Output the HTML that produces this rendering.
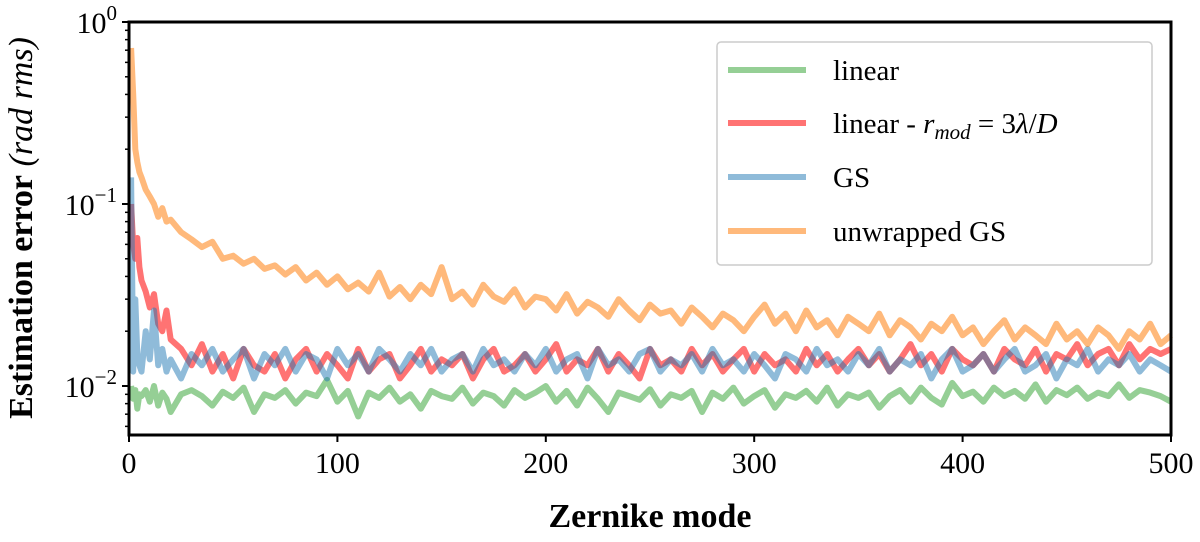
<!DOCTYPE html>
<html><head><meta charset="utf-8"><style>
body{margin:0;background:#fff}
svg text{font-family:"Liberation Serif",serif;fill:#000}
</style></head><body>
<svg id="chart" width="1200" height="537" xmlns="http://www.w3.org/2000/svg">
<g id="series"></g>
<rect x="129" y="22" width="1042" height="413" fill="none" stroke="#000" stroke-width="3"/>
<g id="axes"></g>
<text x="32" y="228" font-size="34" text-anchor="middle" transform="rotate(-90 32 228)"><tspan font-weight="bold">Estimation error</tspan> <tspan font-style="italic">(rad rms)</tspan></text>
<text x="650" y="527" font-size="34" font-weight="bold" text-anchor="middle">Zernike mode</text>
<g>
<rect x="717" y="42" width="435" height="223" rx="4" fill="#fff" fill-opacity="0.85" stroke="#ccc" stroke-width="1.5"/>
<line x1="728" y1="70" x2="806" y2="70" stroke="#2ca02c" stroke-opacity="0.5" stroke-width="6"/>
<text x="833" y="80" font-size="29">linear</text>
<line x1="728" y1="123" x2="806" y2="123" stroke="#ff0000" stroke-opacity="0.55" stroke-width="6"/>
<text x="833" y="133" font-size="29">linear - <tspan font-style="italic">r</tspan><tspan font-style="italic" font-size="21" dy="6">mod</tspan><tspan dy="-6"> = 3</tspan><tspan font-style="italic">λ</tspan>/<tspan font-style="italic">D</tspan></text>
<line x1="728" y1="177" x2="806" y2="177" stroke="#1f77b4" stroke-opacity="0.5" stroke-width="6"/>
<text x="833" y="187" font-size="29">GS</text>
<line x1="728" y1="231" x2="806" y2="231" stroke="#ff7f0e" stroke-opacity="0.55" stroke-width="6"/>
<text x="833" y="241" font-size="29">unwrapped GS</text>
</g>
</svg>
<script>
const modes=[1,2,3,4,5,6,8,10,12,14,16,18,20,25,30,35,40,45,50,55,60,65,70,75,80,85,90,95,100,105,110,115,120,125,130,135,140,145,150,155,160,165,170,175,180,185,190,195,200,205,210,215,220,225,230,235,240,245,250,255,260,265,270,275,280,285,290,295,300,305,310,315,320,325,330,335,340,345,350,355,360,365,370,375,380,385,390,395,400,405,410,415,420,425,430,435,440,445,450,455,460,465,470,475,480,485,490,495,500];
const orangeVals=[0.72,0.4,0.2,0.17,0.15,0.14,0.12,0.11,0.1,0.085,0.095,0.08,0.082,0.07,0.064,0.058,0.062,0.05,0.052,0.047,0.05,0.044,0.046,0.041,0.045,0.038,0.042,0.036,0.04,0.034,0.037,0.033,0.042,0.031,0.035,0.03,0.036,0.032,0.045,0.03,0.033,0.028,0.036,0.031,0.029,0.034,0.027,0.031,0.03,0.026,0.032,0.025,0.029,0.027,0.024,0.03,0.026,0.023,0.028,0.025,0.026,0.022,0.027,0.024,0.021,0.025,0.023,0.02,0.024,0.028,0.022,0.025,0.02,0.026,0.021,0.023,0.019,0.024,0.022,0.02,0.025,0.019,0.023,0.021,0.018,0.022,0.02,0.024,0.019,0.021,0.017,0.02,0.023,0.018,0.021,0.019,0.017,0.022,0.018,0.02,0.017,0.021,0.019,0.016,0.02,0.018,0.022,0.017,0.019];
const redVals=[0.1,0.06,0.05,0.065,0.045,0.038,0.033,0.027,0.032,0.022,0.02,0.026,0.018,0.016,0.013,0.017,0.012,0.015,0.011,0.016,0.013,0.012,0.015,0.011,0.014,0.016,0.012,0.015,0.013,0.011,0.016,0.012,0.014,0.015,0.011,0.013,0.016,0.012,0.014,0.013,0.015,0.011,0.014,0.016,0.012,0.013,0.015,0.012,0.014,0.017,0.012,0.014,0.013,0.016,0.012,0.015,0.013,0.011,0.016,0.013,0.014,0.012,0.016,0.013,0.015,0.012,0.014,0.016,0.012,0.015,0.013,0.014,0.012,0.016,0.013,0.015,0.012,0.014,0.016,0.013,0.015,0.012,0.014,0.017,0.013,0.015,0.012,0.016,0.014,0.013,0.015,0.012,0.016,0.014,0.013,0.016,0.012,0.015,0.014,0.017,0.013,0.015,0.016,0.013,0.017,0.014,0.016,0.015,0.016];
const blueVals=[0.14,0.012,0.03,0.015,0.013,0.012,0.02,0.014,0.026,0.013,0.016,0.012,0.014,0.011,0.015,0.013,0.016,0.012,0.014,0.016,0.011,0.015,0.013,0.016,0.012,0.015,0.014,0.011,0.016,0.013,0.015,0.012,0.016,0.014,0.012,0.015,0.013,0.016,0.012,0.014,0.015,0.012,0.016,0.013,0.014,0.012,0.015,0.013,0.016,0.012,0.014,0.015,0.011,0.016,0.013,0.014,0.012,0.015,0.016,0.012,0.014,0.013,0.015,0.012,0.016,0.013,0.014,0.012,0.015,0.013,0.011,0.015,0.014,0.012,0.016,0.013,0.014,0.012,0.015,0.013,0.016,0.012,0.014,0.013,0.015,0.011,0.014,0.016,0.012,0.013,0.015,0.012,0.014,0.016,0.012,0.013,0.015,0.011,0.014,0.013,0.016,0.012,0.014,0.013,0.015,0.012,0.014,0.013,0.012];
const greenVals=[0.01,0.0085,0.0095,0.0075,0.009,0.0088,0.0095,0.0082,0.01,0.0078,0.0092,0.0085,0.0072,0.009,0.0095,0.0088,0.0078,0.0093,0.0086,0.0098,0.0072,0.009,0.0086,0.0095,0.008,0.0092,0.0088,0.0108,0.0082,0.0094,0.0068,0.0092,0.0086,0.0098,0.0082,0.009,0.0075,0.0094,0.0088,0.0085,0.0098,0.008,0.0092,0.0088,0.0078,0.0095,0.0086,0.0092,0.01,0.0082,0.0094,0.0078,0.0098,0.0085,0.0072,0.0092,0.0088,0.0084,0.0096,0.0078,0.009,0.0086,0.0094,0.0072,0.0092,0.0085,0.0098,0.008,0.0088,0.0095,0.0076,0.009,0.0086,0.0094,0.0082,0.0098,0.0078,0.009,0.0086,0.0092,0.0076,0.0088,0.0095,0.0082,0.0098,0.0086,0.0079,0.0104,0.0088,0.0093,0.0082,0.0098,0.0088,0.0094,0.0085,0.0102,0.0082,0.0095,0.0089,0.0098,0.0085,0.0092,0.0088,0.0102,0.0086,0.0095,0.0092,0.0088,0.0082];
const xTicks=[0,100,200,300,400,500];
const yDecades=[0,-1,-2];

const X0=129,X1=1171,Y0=22,YB=435,DEC=182;
const xScale=v=>X0+(v/500)*(X1-X0);
const yScale=v=>Y0-Math.log10(v)*DEC;
const NS="http://www.w3.org/2000/svg";
const sg=document.getElementById('series');
const series=[[greenVals,'#2ca02c',0.5,'series-linear'],[redVals,'#ff0000',0.55,'series-linear-rmod'],[blueVals,'#1f77b4',0.5,'series-gs'],[orangeVals,'#ff7f0e',0.55,'series-unwrapped-gs']];
series.forEach(s=>{
  const p=document.createElementNS(NS,'polyline');
  p.setAttribute('points',modes.map((m,i)=>xScale(m).toFixed(1)+','+yScale(s[0][i]).toFixed(1)).join(' '));
  p.setAttribute('fill','none');p.setAttribute('stroke',s[1]);p.setAttribute('stroke-opacity',s[2]);
  p.setAttribute('stroke-width','6');p.setAttribute('stroke-linejoin','round');
  
  
  sg.appendChild(p);
});
const ax=document.getElementById('axes');
xTicks.forEach(t=>{
  const l=document.createElementNS(NS,'line');
  l.setAttribute('x1',xScale(t));l.setAttribute('x2',xScale(t));l.setAttribute('y1',YB);l.setAttribute('y2',YB+7);l.setAttribute('stroke','#000');l.setAttribute('stroke-width','2');
  
  
  ax.appendChild(l);
  const tx=document.createElementNS(NS,'text');
  tx.setAttribute('x',xScale(t));tx.setAttribute('y',YB+38);tx.setAttribute('font-size','30');tx.setAttribute('text-anchor','middle');
  tx.textContent=t;
  
  
  ax.appendChild(tx);
});
yDecades.forEach(d=>{
  const y=yScale(Math.pow(10,d));
  const l=document.createElementNS(NS,'line');
  l.setAttribute('x1',X0-7);l.setAttribute('x2',X0);l.setAttribute('y1',y);l.setAttribute('y2',y);l.setAttribute('stroke','#000');l.setAttribute('stroke-width','2');
  
  
  ax.appendChild(l);
  const tx=document.createElementNS(NS,'text');
  tx.setAttribute('x',X0-12);tx.setAttribute('y',y+11);tx.setAttribute('font-size','30');tx.setAttribute('text-anchor','end');
  tx.innerHTML='10<tspan font-size="21" dy="-13">'+(d===0?'0':'\u2212'+(-d))+'</tspan>';
  
  
  ax.appendChild(tx);
  for(let k=2;k<=9;k++){
    const v=k*Math.pow(10,d-1);const yy=yScale(v);
    if(yy>YB||yy<Y0)continue;
    const m=document.createElementNS(NS,'line');
    m.setAttribute('x1',X0-4);m.setAttribute('x2',X0);m.setAttribute('y1',yy);m.setAttribute('y2',yy);m.setAttribute('stroke','#000');m.setAttribute('stroke-width','1.5');
    
    
    ax.appendChild(m);
  }
});
</script>
</body></html>
